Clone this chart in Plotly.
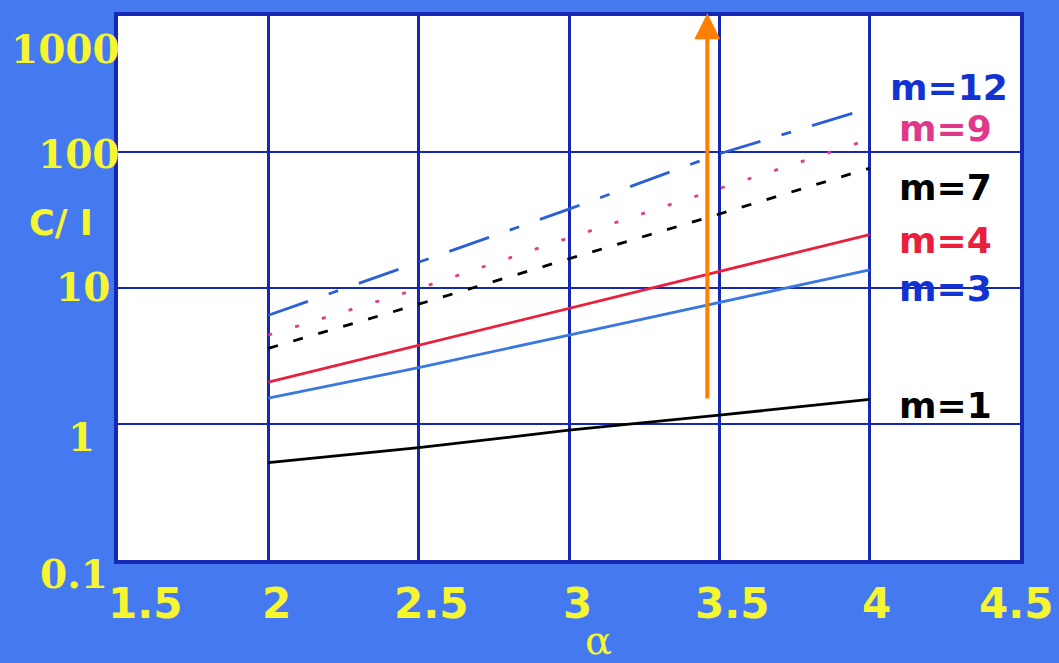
import plotly.graph_objects as go
import math

alpha = [2.0, 2.5, 3.0, 3.5, 4.0]
m1 = [0.52, 0.67, 0.90, 1.16, 1.52]
m3 = [1.55, 2.6, 4.5, 7.8, 13.6]
m4 = [2.03, 3.8, 7.1, 13.2, 24.7]
m7 = [3.6, 7.6, 16.4, 35, 76]
m9 = [4.5, 9.9, 23.4, 54, 124]
m12 = [6.3, 15.4, 38, 97, 210]

x_ticks = [1.5, 2, 2.5, 3, 3.5, 4, 4.5]
x_tick_text = ["1.5", "2", "2.5", "3", "3.5", "4", "4.5"]
y_ticks = [0.1, 1, 10, 100, 1000]
y_tick_text = ["0.1", "1", "10", "100", "1000"]

series = [
    ("m=1", m1, "#000000", "solid"),
    ("m=3", m3, "#3a78e0", "solid"),
    ("m=4", m4, "#e8203c", "solid"),
    ("m=7", m7, "#000000", "10px,16px"),
    ("m=9", m9, "#e03c8c", "4px,24px"),
    ("m=12", m12, "#2a5fd6", "42px,22px,10px,22px"),
]

BG = "#4479f0"
GRID = "#1428b4"
YEL = "#f5f530"

W, H = 1059, 663
L, R, T, B = 118, 39, 14, 103
pw, ph = W - L - R, H - T - B


def px_x(px):
    return (px - L) / pw


def px_y(py):
    return 1 - (py - T) / ph


fig = go.Figure()
for name, vals, col, dash in series:
    fig.add_trace(go.Scatter(x=alpha, y=vals, mode="lines", name=name,
                             line=dict(color=col, width=2.8, dash=dash)))

ann = []
# right-side series labels
labels = [
    ("m=12", "#1232d2", 949, 86),
    ("m=9", "#e0388a", 945, 127),
    ("m=7", "#000000", 945, 186),
    ("m=4", "#e8203c", 945, 239),
    ("m=3", "#1232d2", 945, 287),
    ("m=1", "#000000", 945, 405),
]
for txt, col, px, py in labels:
    ann.append(dict(x=px_x(px), y=px_y(py), xref="paper", yref="paper",
                    text="<b>%s</b>" % txt, showarrow=False,
                    font=dict(family="DejaVu Sans", size=36, color=col),
                    xanchor="center", yanchor="middle"))

# y tick labels (serif, yellow) at the reference's pixel spots
y_lab_pos = {"1000": (122, 47), "100": (121, 153), "10": (112, 286),
             "1": (97, 437), "0.1": (110, 574)}
for t in y_tick_text:
    px, py = y_lab_pos[t]
    ann.append(dict(x=px_x(px), y=px_y(py), xref="paper", yref="paper",
                    text="<b>%s</b>" % t, showarrow=False,
                    xanchor="right", yanchor="middle",
                    font=dict(family="DejaVu Serif", size=39, color=YEL)))

# x tick labels
x_shift = [27, 8, 12, 8, 13, 7, -4]
for v, t, s in zip(x_ticks, x_tick_text, x_shift):
    ann.append(dict(x=v, y=px_y(604), xref="x", yref="paper", xshift=s,
                    text="<b>%s</b>" % t, showarrow=False,
                    xanchor="center", yanchor="middle",
                    font=dict(family="DejaVu Sans", size=42, color=YEL)))

# axis titles
ann.append(dict(x=px_x(61), y=px_y(222), xref="paper", yref="paper",
                text="<b>C/ I</b>", showarrow=False, xanchor="center", yanchor="middle",
                font=dict(family="DejaVu Sans", size=35, color=YEL)))
ann.append(dict(x=px_x(598), y=px_y(640), xref="paper", yref="paper",
                text="α", showarrow=False, xanchor="center", yanchor="middle",
                font=dict(family="DejaVu Serif", size=40, color=YEL)))

# orange arrow
ann.append(dict(x=3.46, y=math.log10(1000) + 0.02, ax=3.46, ay=math.log10(1.5),
                xref="x", yref="y", axref="x", ayref="y", text="", showarrow=True,
                arrowhead=2, arrowsize=1.3, arrowwidth=4, arrowcolor="#ff8000",
                standoff=0, startstandoff=0))

fig.update_layout(
    width=W, height=H,
    margin=dict(l=L, r=R, t=T, b=B),
    paper_bgcolor=BG, plot_bgcolor="#ffffff",
    showlegend=False,
    annotations=ann,
    xaxis=dict(range=[1.5, 4.5], tickvals=x_ticks, showticklabels=False,
               showgrid=True, gridcolor=GRID, gridwidth=2.5,
               showline=True, linecolor=GRID, linewidth=4, mirror=True,
               ticks="", zeroline=False),
    yaxis=dict(type="log", range=[-1, 3], tickvals=y_ticks, showticklabels=False,
               showgrid=True, gridcolor=GRID, gridwidth=2,
               showline=True, linecolor=GRID, linewidth=4, mirror=True,
               ticks="", zeroline=False),
)

fig.write_html("out.html", config={"displayModeBar": False},
               post_script="document.body.style.margin='0';")
